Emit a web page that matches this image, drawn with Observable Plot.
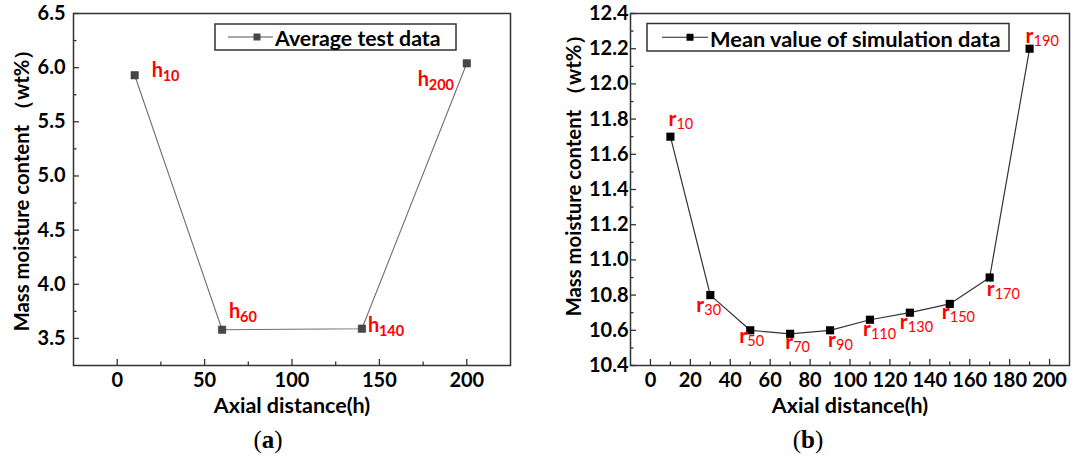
<!DOCTYPE html>
<html><head><meta charset="utf-8">
<script src="https://cdn.jsdelivr.net/npm/d3@7"></script>
<script src="https://cdn.jsdelivr.net/npm/@observablehq/plot@0.6"></script>
<style>
body{margin:0;background:#fff;}
#wrap{position:relative;width:1075px;height:464px;overflow:hidden;background:#fff;}
#wrap > svg{position:absolute;top:0;}
</style></head><body><div id="wrap"></div>
<script>
// ---- data: panel (a) average test data ----
const distA = [10, 60, 140, 200];
const moistA = [5.93, 3.58, 3.59, 6.04];
const subA = ["10", "60", "140", "200"];
// ---- data: panel (b) mean value of simulation data ----
const distB = [10, 30, 50, 70, 90, 110, 130, 150, 170, 190];
const moistB = [11.70, 10.80, 10.60, 10.58, 10.60, 10.66, 10.70, 10.75, 10.90, 12.20];
const subB = ["10", "30", "50", "70", "90", "110", "130", "150", "170", "190"];
// ---- ticks ----
const xTicksA = [0, 50, 100, 150, 200];
const xMinorA = [25, 75, 125, 175];
const yTicksA = [3.5, 4.0, 4.5, 5.0, 5.5, 6.0, 6.5];
const yMinorA = [3.75, 4.25, 4.75, 5.25, 5.75, 6.25];
const xTicksB = [0, 20, 40, 60, 80, 100, 120, 140, 160, 180, 200];
const xMinorB = [10, 30, 50, 70, 90, 110, 130, 150, 170, 190];
const yTicksB = [10.4, 10.6, 10.8, 11.0, 11.2, 11.4, 11.6, 11.8, 12.0, 12.2, 12.4];
const yMinorB = [10.5, 10.7, 10.9, 11.1, 11.3, 11.5, 11.7, 11.9, 12.1, 12.3];
// ---- texts ----
const xLabel = "Axial distance(h)";
const yLabel = "Mass moisture content （wt%）";
const legendA = "Average test data";
const legendB = "Mean value of simulation data";

// label placement (pixel offsets from the point: letter start, baseline)
const offA = [[17, 2], [7, -12], [6, 3], [-49, 23]];
const offB = [[-2, -11], [-14, 17], [-11, 13], [-5, 15], [-2, 17], [-7, 16], [-10, 16], [-8, 15], [-3, 18], [-4, -6]];

function pointLabels(xs, ys, subs, letter, offs, o) {
  return subs.flatMap((s, i) => [
    Plot.text([i], {x: d => xs[d], y: d => ys[d], text: () => letter,
      dx: offs[i][0], dy: offs[i][1], textAnchor: "start", lineAnchor: "bottom",
      fill: "#ff0000", fontSize: o.big, fontWeight: "bold"}),
    Plot.text([i], {x: d => xs[d], y: d => ys[d], text: () => s,
      dx: offs[i][0] + o.w, dy: offs[i][1] + o.sd, textAnchor: "start", lineAnchor: "bottom",
      fill: "#ff0000", fontSize: o.small, fontWeight: o.sw})
  ]);
}

// axis labels from Plot axes; inward tick marks as short ticks at the frame edge
function axes(xMaj, xMin, yMaj, yMin, W, H, xPad, yPad) {
  return [
    Plot.axisX(xMaj, {tickSize: 0, tickPadding: xPad, tickFormat: d => String(d), label: null}),
    Plot.axisY(yMaj, {tickSize: 0, tickPadding: yPad, tickFormat: d => d.toFixed(1), label: null}),
    Plot.tickX(xMaj, {x: d => d, insetTop: H - 6, stroke: "#333", strokeWidth: 1.3}),
    Plot.tickX(xMin, {x: d => d, insetTop: H - 3.5, stroke: "#333", strokeWidth: 1.3}),
    Plot.tickY(yMaj, {y: d => d, insetRight: W - 6, stroke: "#333", strokeWidth: 1.3}),
    Plot.tickY(yMin, {y: d => d, insetRight: W - 3.5, stroke: "#333", strokeWidth: 1.3})
  ];
}

const baseStyle = {fontFamily: "Lato, sans-serif", fontSize: "20px", fontWeight: "bold", color: "#000", background: "transparent", overflow: "visible"};

const WA = 537, HA = 464, mA = {l: 73, r: 27, t: 13, b: 99};
const idxA = distA.map((d, i) => i);
const plotA = Plot.plot({
  width: WA, height: HA,
  marginLeft: mA.l, marginRight: mA.r, marginTop: mA.t, marginBottom: mA.b,
  x: {domain: [-25, 225]},
  y: {domain: [3.25, 6.5]},
  style: baseStyle,
  marks: [
    ...axes(xTicksA, xMinorA, yTicksA, yMinorA, WA - mA.l - mA.r, HA - mA.t - mA.b, 7, 8),
    Plot.frame({stroke: "#333", strokeWidth: 1.5}),
    Plot.line(idxA, {x: i => distA[i], y: i => moistA[i], stroke: "#707070", strokeWidth: 1.1}),
    Plot.dot(idxA, {x: i => distA[i], y: i => moistA[i], symbol: "square", r: 4.2, fill: "#474747", stroke: "#333", strokeWidth: 0.5}),
    ...pointLabels(distA, moistA, subA, "h", offA, {big: 20, small: 14.5, w: 11, sd: 4, sw: "bold"}),
    Plot.text([xLabel], {frameAnchor: "bottom", dy: 47, lineAnchor: "bottom", fontSize: 21.5, fontWeight: "bold"}),
    Plot.text([yLabel], {frameAnchor: "left", dx: -51, dy: -4, rotate: -90, textAnchor: "middle", lineAnchor: "middle", fontSize: 20.3, fontWeight: "bold"})
  ]
});
plotA.style.left = "0px";

const WB = 538, HB = 464, mB = {l: 93, r: 6, t: 13, b: 99};
const idxB = distB.map((d, i) => i);
const plotB = Plot.plot({
  width: WB, height: HB,
  marginLeft: mB.l, marginRight: mB.r, marginTop: mB.t, marginBottom: mB.b,
  x: {domain: [-10, 210]},
  y: {domain: [10.4, 12.4]},
  style: baseStyle,
  marks: [
    ...axes(xTicksB, xMinorB, yTicksB, yMinorB, WB - mB.l - mB.r, HB - mB.t - mB.b, 7, 2),
    Plot.frame({stroke: "#333", strokeWidth: 1.5}),
    Plot.line(idxB, {x: i => distB[i], y: i => moistB[i], stroke: "#333", strokeWidth: 1.2}),
    Plot.dot(idxB, {x: i => distB[i], y: i => moistB[i], symbol: "square", r: 4.6, fill: "#000"}),
    ...pointLabels(distB, moistB, subB, "r", offB, {big: 21, small: 14.5, w: 8, sd: 3, sw: "normal"}),
    Plot.text([xLabel], {frameAnchor: "bottom", dy: 47, lineAnchor: "bottom", fontSize: 21.5, fontWeight: "bold"}),
    Plot.text([yLabel], {frameAnchor: "left", dx: -56, dy: -19, rotate: -90, textAnchor: "middle", lineAnchor: "middle", fontSize: 20.3, fontWeight: "bold"})
  ]
});
plotB.style.left = "537px";

const wrap = document.getElementById("wrap");
wrap.appendChild(plotA);
wrap.appendChild(plotB);

// ---- overlay: legends and panel captions ----
const ov = d3.select(wrap).append("svg").attr("width", 1075).attr("height", 464)
  .style("left", "0px").style("pointer-events", "none");

function legend(box, lineX, markX, markSize, markFill, lineStroke, textX, baseline, text, fs) {
  const g = ov.append("g");
  g.append("rect").attr("x", box[0]).attr("y", box[1]).attr("width", box[2]).attr("height", box[3])
    .attr("fill", "none").attr("stroke", "#333").attr("stroke-width", 1.5);
  const cy = box[1] + box[3] / 2;
  g.append("line").attr("x1", lineX[0]).attr("x2", lineX[1]).attr("y1", cy).attr("y2", cy)
    .attr("stroke", lineStroke).attr("stroke-width", 1.1);
  g.append("rect").attr("x", markX - markSize / 2).attr("y", cy - markSize / 2)
    .attr("width", markSize).attr("height", markSize).attr("fill", markFill);
  g.append("text").attr("x", textX).attr("y", baseline).text(text)
    .attr("font-family", "Lato, sans-serif").attr("font-weight", "bold").attr("font-size", fs).attr("fill", "#000");
}
legend([215, 24, 241, 26], [228, 273], 257, 7, "#474747", "#555", 275, 45.5, legendA, 21.3);
legend([647, 23.5, 362, 27.5], [662, 708], 690, 7, "#000", "#222", 710, 46.5, legendB, 21.8);

function caption(cx, letter) {
  const t = ov.append("text").attr("x", cx).attr("y", 448).attr("text-anchor", "middle")
    .attr("font-family", "'Liberation Serif', 'DejaVu Serif', serif").attr("font-size", 25).attr("fill", "#000");
  t.append("tspan").text("(");
  t.append("tspan").attr("font-weight", "bold").text(letter);
  t.append("tspan").text(")");
}
caption(268, "a");
caption(808, "b");
</script></body></html>
